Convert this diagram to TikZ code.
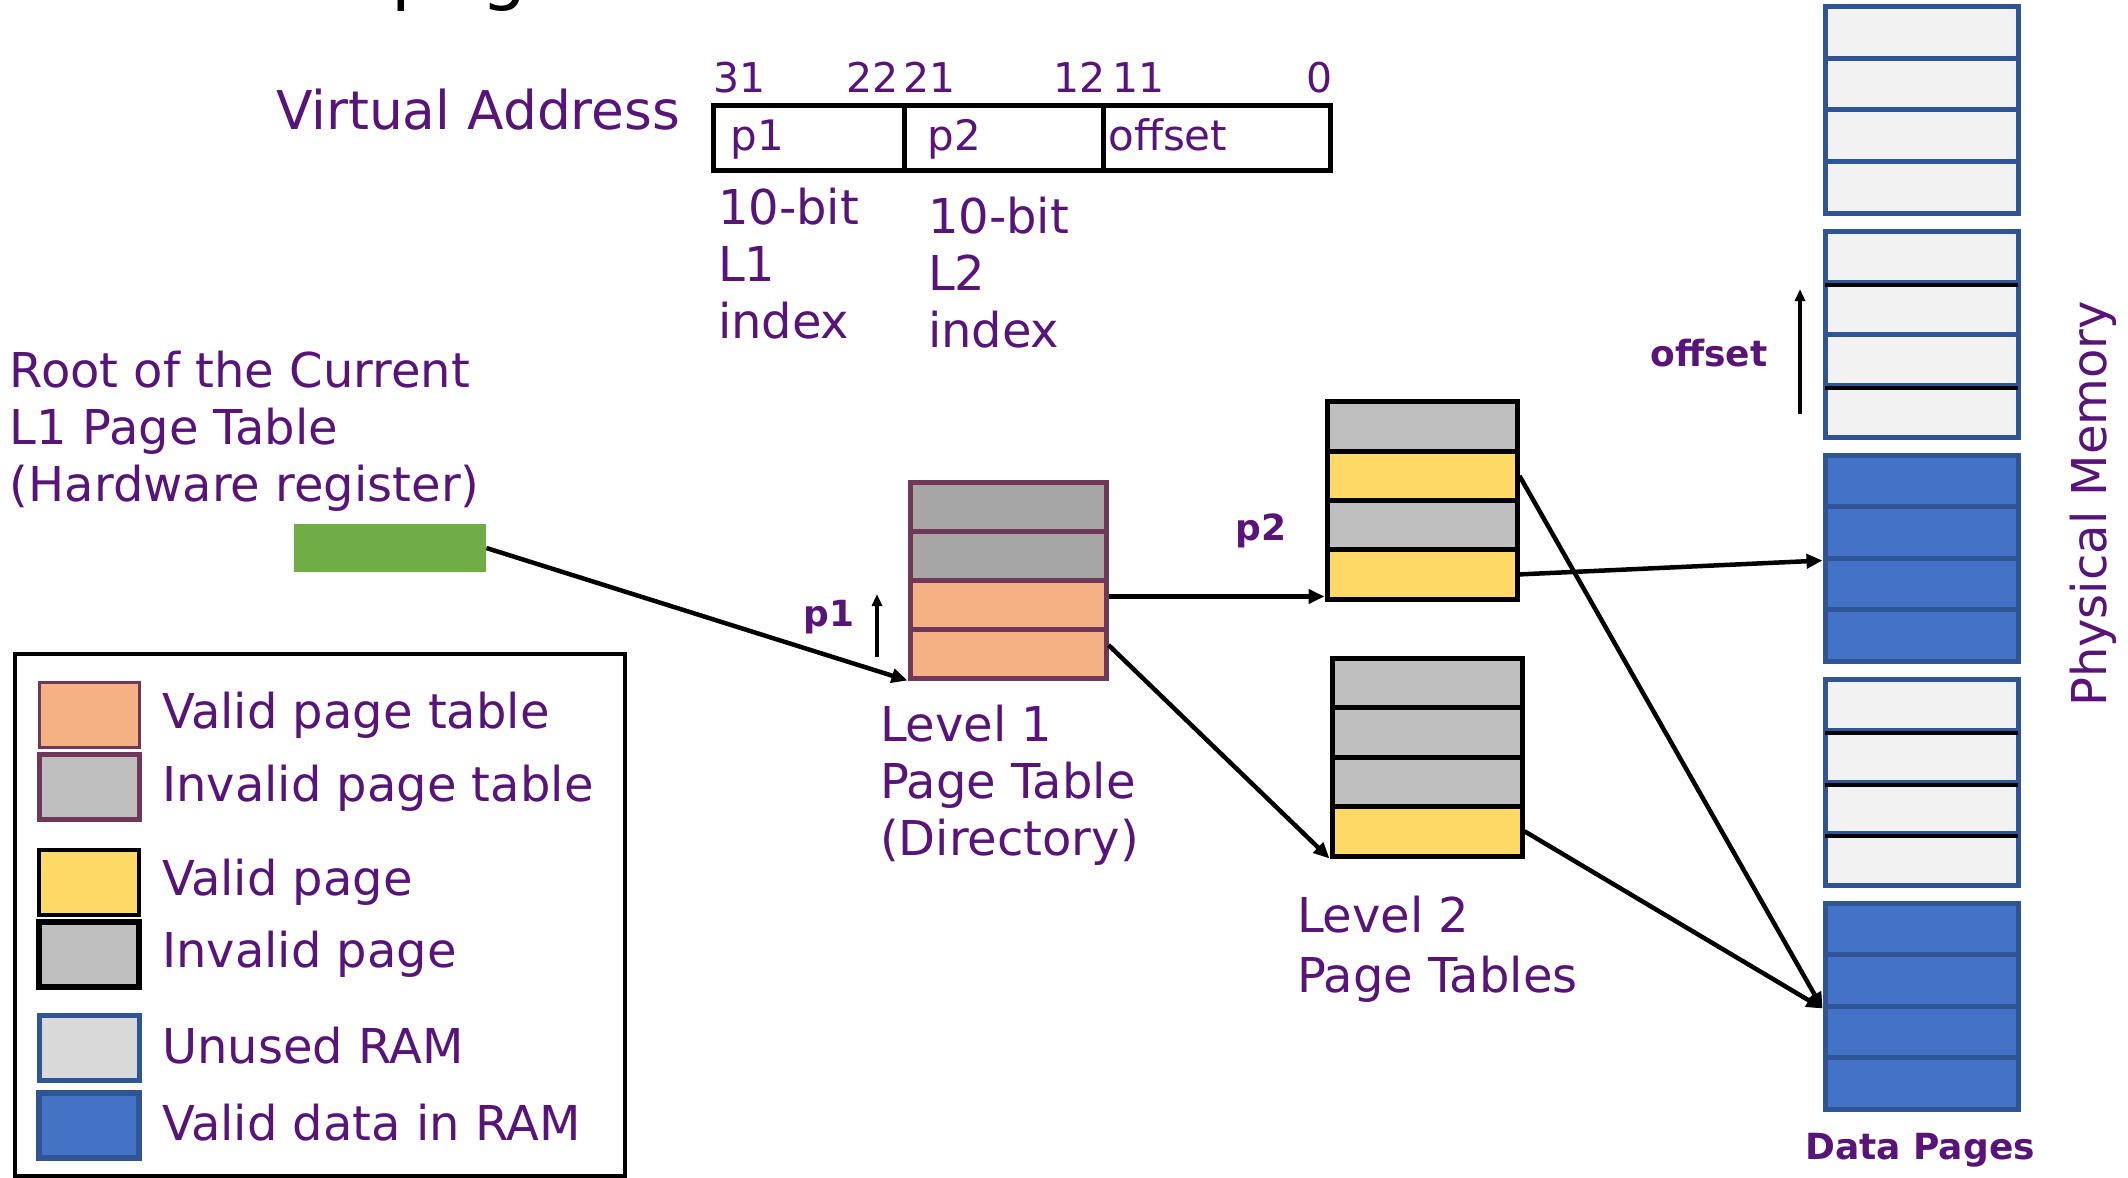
\documentclass[tikz,border=0pt]{standalone}
\usepackage{fontspec}
\setmainfont{DejaVu Sans}
\usetikzlibrary{arrows.meta}
\definecolor{vpurple}{RGB}{88,20,120}
\definecolor{mauve}{RGB}{112,56,88}
\definecolor{ptgray}{RGB}{166,166,166}
\definecolor{ptorange}{RGB}{244,177,131}
\definecolor{pggray}{RGB}{191,191,191}
\definecolor{pgyellow}{RGB}{255,217,102}
\definecolor{ramlight}{RGB}{242,242,242}
\definecolor{ramunused}{RGB}{217,217,217}
\definecolor{ramblue}{RGB}{68,114,196}
\definecolor{ramedge}{RGB}{47,85,151}
\definecolor{regreen}{RGB}{112,173,71}
\begin{document}
\begin{tikzpicture}[x=0.5pt,y=-0.5pt,
  txt/.style={text=vpurple, font=\fontsize{24}{28.5}\selectfont, inner sep=0pt, outer sep=0pt},
  bitnum/.style={text=vpurple, font=\fontsize{20.5}{24}\selectfont, inner sep=0pt},
  celltxt/.style={text=vpurple, font=\fontsize{21}{24}\selectfont, inner sep=0pt},
  blab/.style={text=vpurple, font=\bfseries\fontsize{18}{21}\selectfont, inner sep=0pt},
  vacell/.style={draw=black, line width=2.5pt, minimum height=32pt, inner sep=0pt},
  l1cell/.style={draw=mauve, line width=2.5pt, minimum width=98pt, minimum height=24.5pt, inner sep=0pt},
  l2cell/.style={draw=black, line width=2.5pt, minimum width=95pt, minimum height=24.75pt, inner sep=0pt},
  memcell/.style={draw=ramedge, line width=2.5pt, minimum width=96.5pt, minimum height=25.75pt, inner sep=0pt},
  blackdiv/.style={draw=black, line width=2pt, shorten <=1.25pt, shorten >=1.25pt},
  lgsq/.style={minimum width=50pt, minimum height=32.5pt, inner sep=0pt},
  arr/.style={-{Triangle[length=8pt,width=7pt]}, line width=2.25pt, black},
  sarr/.style={-{Triangle[length=6pt,width=5pt]}, line width=1.75pt, black}
]
\useasboundingbox (0,0) rectangle (2128,1177);

% title fragment (cut off at the top)
\begin{scope}
\clip (0,0) rectangle (2128,1177);
\node[font=\fontsize{36}{40}\selectfont, text=black, anchor=base west, inner sep=0pt] (title) at (391,-3) {page};
\end{scope}

% virtual address
\node[txt, font=\fontsize{26.7}{30}\selectfont, anchor=base west] (vlab) at (276,129) {Virtual Address};
\node[vacell, minimum width=95.5pt] (va1) at (808.5,138) {};
\node[vacell, minimum width=99.5pt] (va2) at (1003.5,138) {};
\node[vacell, minimum width=113.5pt] (va3) at (1216.5,138) {};
\node[celltxt, anchor=base west] (vt1) at (730,150) {p1};
\node[celltxt, anchor=base west] (vt2) at (927,150) {p2};
\node[celltxt, anchor=base west] (vt3) at (1108,150) {offset};
\node[bitnum, anchor=base west] (b31) at (713,92) {31};
\node[bitnum, anchor=base east] (b22) at (899,92) {22};
\node[bitnum, anchor=base west] (b21) at (903,92) {21};
\node[bitnum, anchor=base east] (b12) at (1106,92) {12};
\node[bitnum, anchor=base west] (b11) at (1112,92) {11};
\node[bitnum, anchor=base east] (b0) at (1333,92) {0};
\node[txt, anchor=base west, align=left] (idx1) at (718,338) {10-bit\\L1\\index};
\node[txt, anchor=base west, align=left] (idx2) at (928,347) {10-bit\\L2\\index};

% root register
\node[txt, anchor=base west, align=left] (rootlab) at (10,501) {Root of the Current\\L1 Page Table\\(Hardware register)};
\node[fill=regreen, minimum width=96pt, minimum height=24pt, inner sep=0pt] (reg) at (390,548) {};

% level 1 table
\node[l1cell, fill=ptgray] (l1a) at (1008,506.5) {};
\node[l1cell, fill=ptgray] (l1b) at (1008,555.5) {};
\node[l1cell, fill=ptorange] (l1c) at (1008,604.5) {};
\node[l1cell, fill=ptorange] (l1d) at (1008,653.5) {};
\node[txt, anchor=base west, align=left] (l1lab) at (880,855) {Level 1\\Page Table\\(Directory)};
\node[blab, anchor=base west] (p1lab) at (803,626) {p1};
\coordinate (p1lo) at (877,657);
\coordinate (p1hi) at (877,594);
\draw[sarr] (p1lo) -- (p1hi);

% level 2 tables
\node[l2cell, fill=pggray] (l2a) at (1422,426.6) {};
\node[l2cell, fill=pgyellow] (l2b) at (1422,475.9) {};
\node[l2cell, fill=pggray] (l2c) at (1422,525.1) {};
\node[l2cell, fill=pgyellow] (l2d) at (1422,574.4) {};
\node[l2cell, fill=pggray] (l2e) at (1427,682.75) {};
\node[l2cell, fill=pggray] (l2f) at (1427,732.25) {};
\node[l2cell, fill=pggray] (l2g) at (1427,781.75) {};
\node[l2cell, fill=pgyellow] (l2h) at (1427,831.25) {};
\node[txt, anchor=base west, align=left, font=\fontsize{24}{30}\selectfont] (l2lab) at (1297,992) {Level 2\\Page Tables};
\node[blab, anchor=base west] (p2lab) at (1235,540) {p2};

% physical memory
\foreach \b/\t/\f in {A/7/ramlight, B/231/ramlight, C/455/ramblue, D/679/ramlight, E/903/ramblue}{
  \foreach \k in {1,...,4}{
    \node[memcell, fill=\f] (m\b\k) at (1921.5,{\t+25.75+51.5*(\k-1)}) {};
  }
}
\draw[blackdiv] (mB1.south west) -- (mB1.south east);
\draw[blackdiv] (mB3.south west) -- (mB3.south east);
\draw[blackdiv] (mD1.south west) -- (mD1.south east);
\draw[blackdiv] (mD2.south west) -- (mD2.south east);
\draw[blackdiv] (mD3.south west) -- (mD3.south east);
\node[txt, rotate=90, anchor=base] (physlab) at (2106,504) {Physical Memory};
\node[blab, anchor=base] (datalab) at (1920,1159) {Data Pages};
\node[blab, anchor=base west] (offlab) at (1650,366) {offset};
\coordinate (oflo) at (1800,414);
\coordinate (ofhi) at (1800,289);
\draw[sarr] (oflo) -- (ofhi);

% connectors
\draw[arr] (reg.east) -- (l1d.south west);
\coordinate (s1) at ([yshift=4pt]l1c.east);
\draw[arr] (s1) -- (s1 -| l2d.west);
\coordinate (s2) at ([yshift=4.25pt]l1d.east);
\draw[arr] (s2) -- (l2h.south west);
\draw[arr] (l2d.east) -- (mC2.south west);
\draw[arr] (l2b.east) -- (mE2.south west);
\draw[arr] (l2h.east) -- (mE2.south west);

% legend
\node[draw=black, line width=2.25pt, minimum width=305pt, minimum height=261pt, inner sep=0pt] (legend) at (320,915) {};
\node[lgsq, fill=ptorange, draw=mauve, line width=1.5pt] (lg1) at (89,714.5) {};
\node[lgsq, fill=pggray, draw=mauve, line width=2.5pt] (lg2) at (89,787) {};
\node[lgsq, fill=pgyellow, draw=black, line width=2pt] (lg3) at (89,882.5) {};
\node[lgsq, fill=pggray, draw=black, line width=3pt] (lg4) at (89,954.5) {};
\node[lgsq, fill=ramunused, draw=ramedge, line width=2.5pt] (lg5) at (89,1047.5) {};
\node[lgsq, fill=ramblue, draw=ramedge, line width=3pt] (lg6) at (89,1125.5) {};
\node[txt, anchor=base west] (lt1) at (162,728) {Valid page table};
\node[txt, anchor=base west] (lt2) at (162,801) {Invalid page table};
\node[txt, anchor=base west] (lt3) at (162,895) {Valid page};
\node[txt, anchor=base west] (lt4) at (162,967) {Invalid page};
\node[txt, anchor=base west] (lt5) at (162,1063) {Unused RAM};
\node[txt, anchor=base west] (lt6) at (162,1140) {Valid data in RAM};
\end{tikzpicture}
\end{document}
